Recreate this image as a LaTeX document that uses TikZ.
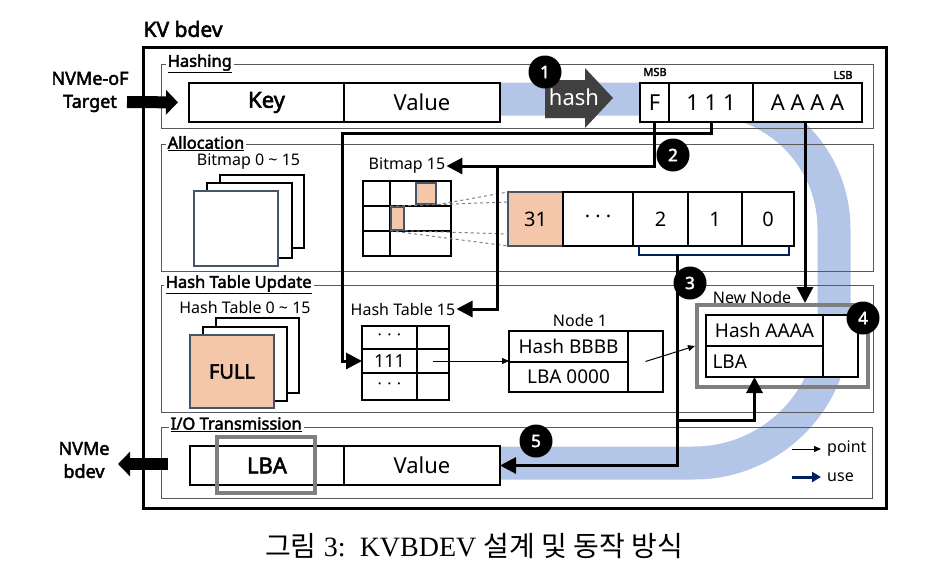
\documentclass[tikz,border=0pt]{standalone}
\usepackage{fontspec}
\setmainfont{Noto Sans}[AutoFakeBold=2.5]
\newfontfamily\krfont{Noto Sans CJK KR}
\newfontfamily\capfont{Liberation Serif}
\usetikzlibrary{positioning, arrows.meta}

\definecolor{bandblue}{RGB}{180,198,231}
\definecolor{salmon}{RGB}{244,199,171}
\definecolor{slate}{RGB}{68,84,106}
\definecolor{navy}{RGB}{0,32,96}
\definecolor{framegray}{RGB}{89,89,89}
\definecolor{boxgray}{RGB}{127,127,127}
\definecolor{hashgray}{RGB}{64,64,64}

\newcommand{\fsz}[1]{\fontsize{#1}{#1}\selectfont}

\tikzset{
  section frame/.style={draw=framegray, line width=1pt, inner sep=0pt},
  sectitle/.style={fill=white, anchor=west, inner sep=2pt, font=\fsz{16.5}\bfseries},
  cell/.style={draw, fill=white, line width=1.5pt, inner sep=0pt, outer sep=0pt, font=\fsz{22}},
  small cell/.style={cell, font=\fsz{19}},
  heading/.style={inner sep=1pt, font=\fsz{16}},
  sheet/.style={draw, fill=white, line width=2pt, inner sep=0pt},
  badge/.style={circle, fill=black, text=white, minimum size=33pt, inner sep=0pt, font=\fsz{17}\bfseries},
  flow/.style={line width=3pt, -{Triangle[width=16pt,length=16pt]}},
  pointer/.style={line width=1pt, -{Triangle[width=6pt,length=7pt]}},
  bigarrow/.style={line width=12pt, -{Triangle[width=24pt,length=12pt]}},
}

\begin{document}
\begin{tikzpicture}[x=1pt, y=-1pt]
    \useasboundingbox (0,0) rectangle (948,584);

    \draw[bandblue, line width=33pt] (205,99) -- (704,99)
        .. controls (775.8,99) and (834,157.2) .. (834,229) -- (834,323)
        .. controls (834,400.3) and (771.3,463) .. (694,463) -- (420,463);

    \node[draw, line width=3pt, minimum width=743pt, minimum height=461pt, inner sep=0pt] (kvbdev) at (514.5,277.5) {};
    \node[anchor=west, font=\fsz{21}\bfseries] (kvtitle) at (140,29) {KV bdev};

    \node[section frame, minimum width=712pt, minimum height=64pt]  (hashing)  at (517,96) {};
    \node[section frame, minimum width=712pt, minimum height=127pt] (alloc)    at (517,207.5) {};
    \node[section frame, minimum width=712pt, minimum height=127pt] (htupdate) at (517,348.5) {};
    \node[section frame, minimum width=711pt, minimum height=71pt]  (iotrans)  at (516.5,462.5) {};
    \node[sectitle] (hashingtitle)  at ([xshift=5pt]hashing.north west)  {\underline{Hashing}};
    \node[sectitle] (alloctitle)    at ([xshift=5pt]alloc.north west)    {\underline{Allocation}};
    \node[sectitle] (htupdatetitle) at ([xshift=3pt]htupdate.north west) {\underline{Hash Table Update}};
    \node[sectitle] (iotranstitle)  at ([xshift=8pt,yshift=2pt]iotrans.north west) {\underline{I/O Transmission}};

    \node[cell, minimum width=155pt, minimum height=39pt, font=\fsz{22}\bfseries] (key) at (266.5,102.5) {Key};
    \node[cell, minimum width=156pt, minimum height=39pt, right=0pt of key] (value) {Value};

    \fill[hashgray] (545,80) -- (585,80) -- (585,68) -- (613,98) -- (585,128) -- (585,118) -- (545,118) -- cycle;
    \node[text=white, font=\fsz{22}] (hash) at (574,97) {hash};
    \node[badge] (s1) at (545,72) {1};

    \node[cell, minimum width=29pt,  minimum height=39pt] (F) at (654.5,102.5) {F};
    \node[cell, minimum width=84pt,  minimum height=39pt, right=0pt of F]    (ones) {1 1 1};
    \node[cell, minimum width=109pt, minimum height=39pt, right=0pt of ones] (aaaa) {A A A A};
    \node[font=\fsz{11}\bfseries] (msb) at (655,72) {MSB};
    \node[font=\fsz{11}\bfseries] (lsb) at (843,75) {LSB};

    \node[heading] (bmall) at (248.5,162) {Bitmap 0 \textasciitilde{} 15};
    \node[sheet, minimum width=84pt, minimum height=73pt] (bmsheet3) at (262,211.5) {};
    \node[sheet, minimum width=85pt, minimum height=75pt] (bmsheet2) at (249.5,220.5) {};
    \node[sheet, draw=slate, minimum width=84pt, minimum height=75pt] (bmsheet1) at (236,228.5) {};

    \node[heading] (bmlbl) at (407,166) {Bitmap 15};
    \node[cell, line width=2pt, minimum width=88pt, minimum height=75pt] (bmgrid) at (407,218.5) {};
    \draw[line width=2pt] (363,206) -- (451,206) (363,231) -- (451,231) (390,181) -- (390,256);
    \node[draw=slate, fill=salmon, line width=1.5pt, minimum width=20pt, minimum height=21pt, inner sep=0pt] (bitA) at (426,193.5) {};
    \node[draw=slate, fill=salmon, line width=1.5pt, minimum width=13pt, minimum height=23pt, inner sep=0pt] (bitB) at (397.5,218.5) {};

    \node[cell, draw=slate, fill=salmon, minimum width=55pt, minimum height=54pt, font=\fsz{20}] (b31) at (535.5,219) {31};
    \node[cell, minimum width=70pt, minimum height=54pt, font=\fsz{20}, right=0pt of b31] (bdots) {· · ·};
    \node[cell, line width=2pt, minimum width=55pt, minimum height=54pt, font=\fsz{20}, right=0pt of bdots] (b2) {2};
    \node[cell, line width=2pt, minimum width=54pt, minimum height=54pt, font=\fsz{20}, right=0pt of b2] (b1) {1};
    \node[cell, line width=2pt, minimum width=52pt, minimum height=54pt, font=\fsz{20}, right=0pt of b1] (b0) {0};

    \draw[dashed, boxgray, line width=1pt] (bitA.south east) -- (b31.north west);
    \draw[dashed, boxgray, line width=1pt] (bitB.north west) -- ([yshift=-10pt]b31.north west);
    \draw[dashed, boxgray, line width=1pt] (bitB.south east) -- ([yshift=12pt]b31.south west);
    \draw[dashed, boxgray, line width=1pt] (bitB.south west) -- (b31.south west);

    \draw[navy, line width=2.5pt] ([xshift=6pt]b2.south west) -- ++(0,9) -| ([xshift=-5pt]b0.south east);
    \coordinate (sel) at ([xshift=44pt,yshift=-9pt]b2.south west);

    \node[heading] (htall) at (245,307) {Hash Table 0 \textasciitilde{} 15};
    \node[sheet, minimum width=83pt, minimum height=75pt] (htsheet3) at (257.5,355.5) {};
    \node[sheet, minimum width=84pt, minimum height=74pt] (htsheet2) at (245,364) {};
    \node[sheet, draw=slate, fill=salmon, minimum width=84pt, minimum height=73pt, font=\fsz{20}\bfseries] (htsheet1) at (232,371.5) {FULL};

    \node[heading] (htlbl) at (403,309) {Hash Table 15};
    \node[cell, line width=2pt, minimum width=55pt, minimum height=23pt, font=\fsz{16}] (htdotsA) at (389.5,337.5) {·\,\,·\,\,·};
    \node[cell, line width=2pt, minimum width=32pt, minimum height=23pt, right=0pt of htdotsA] (htptrA) {};
    \node[cell, line width=2pt, minimum width=55pt, minimum height=24pt, font=\fsz{18}, below=0pt of htdotsA] (ht111) {111};
    \node[cell, line width=2pt, minimum width=32pt, minimum height=24pt, right=0pt of ht111] (htptrB) {};
    \node[cell, line width=2pt, minimum width=55pt, minimum height=27pt, font=\fsz{16}, below=0pt of ht111] (htdotsC) {·\,\,·\,\,·};
    \node[cell, line width=2pt, minimum width=32pt, minimum height=27pt, right=0pt of htdotsC] (htptrC) {};

    \node[heading] (n1lbl) at (580,320) {Node 1};
    \node[small cell, minimum width=119pt, minimum height=31pt] (n1hash) at (568.5,346.5) {Hash BBBB};
    \node[small cell, minimum width=119pt, minimum height=30pt, below=0pt of n1hash] (n1lba) {LBA 0000};
    \node[cell, minimum width=35pt, minimum height=61pt, anchor=north west] (n1ptr) at (n1hash.north east) {};

    \node[heading] (nnlbl) at (752,297) {New Node};
    \node[draw=boxgray, line width=4pt, minimum width=171pt, minimum height=82pt, inner sep=0pt] (newnode) at (782.5,346) {};
    \node[small cell, minimum width=117pt, minimum height=31pt] (nnhash) at (764.5,330.5) {Hash AAAA};
    \node[small cell, minimum width=117pt, minimum height=31pt, text width=104pt, align=left, below=0pt of nnhash] (nnlba) {LBA};
    \node[cell, minimum width=35pt, minimum height=62pt, anchor=north west] (nnptr) at (nnhash.north east) {};

    \node[cell, minimum width=154pt, minimum height=39pt, font=\fsz{22}\bfseries] (iolba) at (267,465.5) {LBA};
    \node[cell, minimum width=156pt, minimum height=39pt, right=0pt of iolba] (ioval) {Value};
    \node[draw=boxgray, line width=4pt, minimum width=98pt, minimum height=56pt, inner sep=0pt] (lbamark) at (266,465) {};

    \node[font=\fontsize{18}{23}\selectfont\bfseries, align=center] (nvmeof) at (90,92) {NVMe-oF\\Target};
    \coordinate (inport) at (127,102);
    \draw[bigarrow, shorten >=11pt] (inport) -- (key.west);
    \node[font=\fontsize{18}{23}\selectfont\bfseries, align=center] (nvmebdev) at (84,460) {NVMe\\bdev};
    \coordinate (outtip) at (118,464);
    \draw[bigarrow, shorten <=22pt] (iolba.west |- outtip) -- (outtip);

    \coordinate (split2) at (497,165);
    \coordinate (split3) at (677,420);
    \draw[flow] (F.south) |- (bmlbl.east);
    \draw[flow] (split2) |- (htlbl.east);
    \draw[flow] (ones.south) -- ++(0,11) -| ([xshift=-20pt]ht111.west) -- (ht111.west);
    \draw[flow] ([xshift=-2.5pt]aaaa.south) -- ([xshift=-2.5pt]aaaa.south |- newnode.north);
    \draw[flow] (sel) |- (ioval.east);
    \draw[flow] (split3) -| ([xshift=-10pt]nnlba.south);
    \draw[pointer] (htptrB.center) -- (htptrB.center -| n1hash.west);
    \draw[pointer] (n1ptr.center) -- (newnode.west);

    \node[badge] (s2) at (673,155) {2};
    \node[badge] (s3) at (690,283) {3};
    \node[badge] (s4) at (863,318) {4};
    \node[badge] (s5) at (536,441) {5};

    \coordinate (pt0) at (792,449);
    \node[heading, anchor=west] (ptlbl) at (826,449) {point};
    \draw[pointer, shorten >=5pt] (pt0) -- (ptlbl.west);
    \coordinate (use0) at (792,477);
    \node[heading, anchor=west] (uselbl) at (826,477) {use};
    \draw[navy, line width=3pt, shorten >=5pt, -{Triangle[width=10pt,length=9pt]}] (use0) -- (uselbl.west);

    \node (caption) at (474,546) {\fsz{28}{\krfont 그림} {\capfont 3:\ \ KVBDEV} {\krfont 설계 및 동작 방식}};
\end{tikzpicture}
\end{document}
